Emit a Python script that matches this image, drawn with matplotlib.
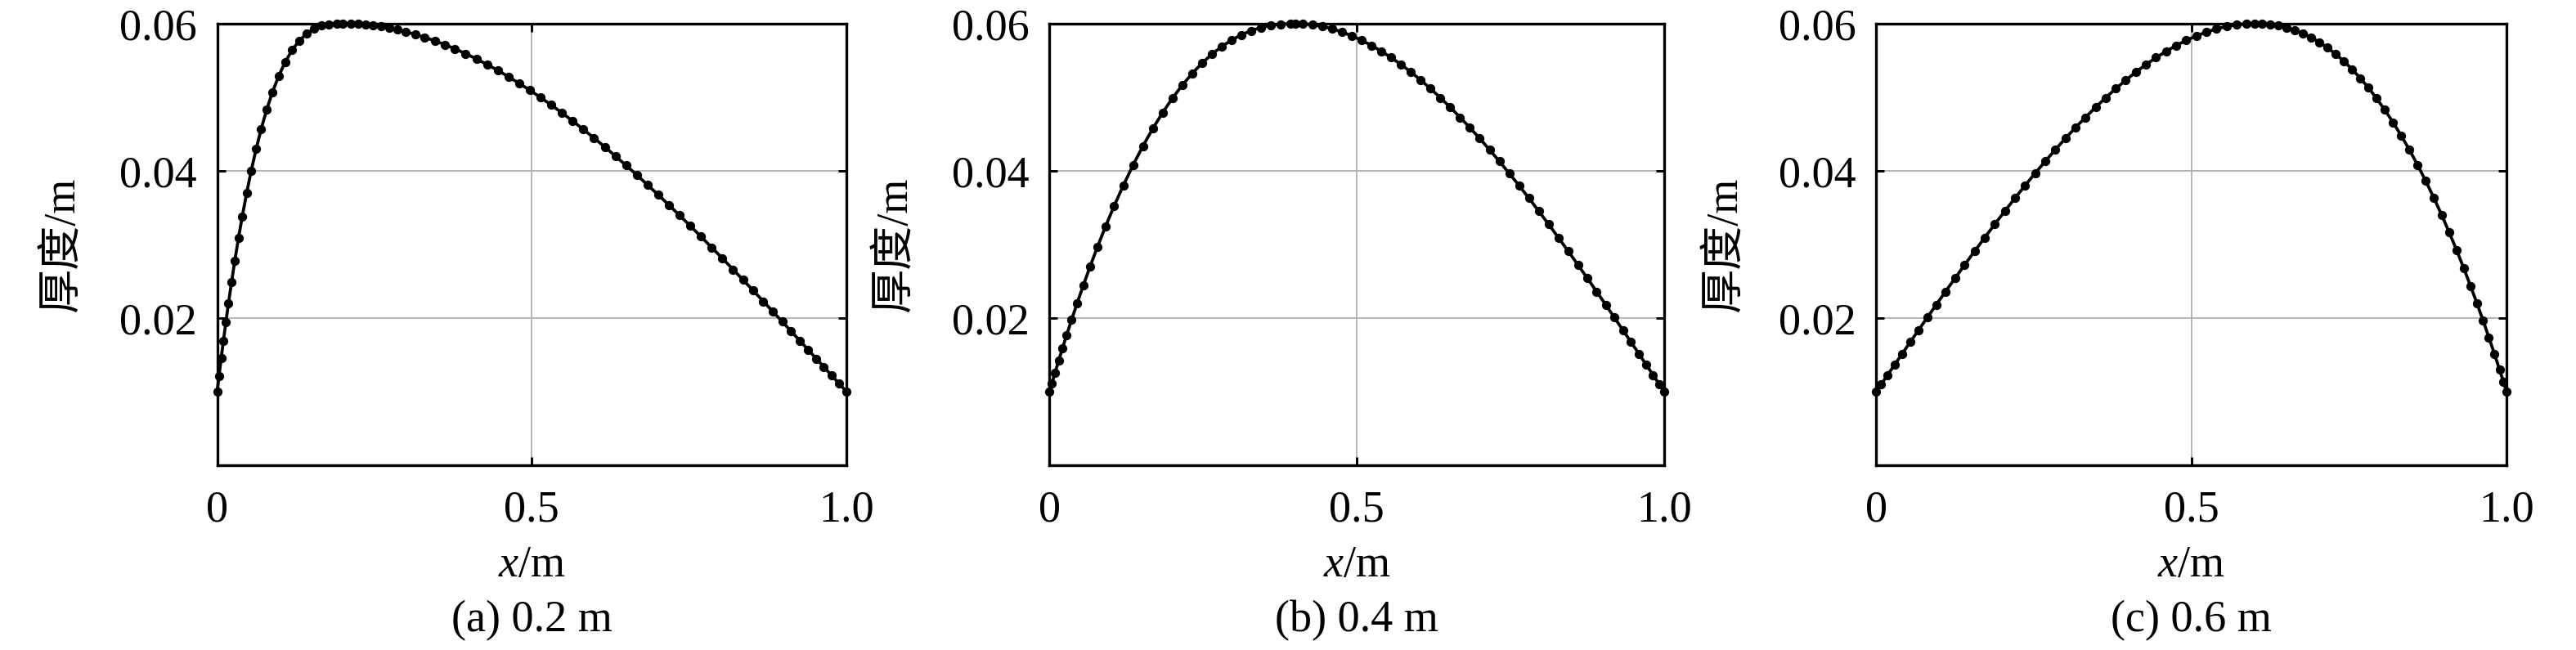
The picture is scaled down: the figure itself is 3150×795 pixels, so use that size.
import matplotlib
matplotlib.use("Agg")
import matplotlib.pyplot as plt

plt.rcParams['font.family'] = ['Liberation Serif', 'Noto Sans CJK SC', 'DejaVu Sans']
plt.rcParams['mathtext.fontset'] = 'custom'
plt.rcParams['mathtext.rm'] = 'Liberation Serif'
plt.rcParams['mathtext.it'] = 'Liberation Serif:italic'
plt.rcParams['font.size'] = 13

# thickness distribution, peak at 0.2 m
x_a = [0, 0.003, 0.0065, 0.010, 0.014, 0.018, 0.023, 0.028, 0.034, 0.040,
       0.047, 0.054, 0.062, 0.070, 0.079, 0.088, 0.098, 0.108, 0.119, 0.130,
       0.142, 0.154, 0.166, 0.178, 0.190, 0.200,
       0.212, 0.224, 0.236, 0.248, 0.260, 0.273, 0.286, 0.300, 0.315, 0.330,
       0.346, 0.362, 0.378, 0.395, 0.412, 0.429, 0.446, 0.463, 0.480, 0.497,
       0.514, 0.531, 0.548, 0.565, 0.582, 0.599, 0.616, 0.633, 0.650, 0.667,
       0.684, 0.701, 0.718, 0.735, 0.752, 0.769, 0.786, 0.803, 0.820, 0.836,
       0.852, 0.868, 0.883, 0.898, 0.912, 0.926, 0.939, 0.952, 0.964, 0.976,
       0.988, 1.0]
h_a = [0.0100, 0.01214, 0.01457, 0.01691, 0.01949, 0.02197, 0.02492, 0.02772, 0.03088, 0.03382,
       0.03701, 0.03993, 0.04296, 0.04567, 0.04836, 0.05070, 0.05290, 0.05474, 0.05637, 0.05762,
       0.05862, 0.05930, 0.05971, 0.05992, 0.05999, 0.0600,
       0.05998, 0.05993, 0.05985, 0.05974, 0.05959, 0.05939, 0.05916, 0.05888, 0.05852, 0.05813,
       0.05765, 0.05713, 0.05656, 0.05591, 0.05520, 0.05444, 0.05364, 0.05278, 0.05188, 0.05094,
       0.04996, 0.04893, 0.04787, 0.04676, 0.04562, 0.04445, 0.04324, 0.04199, 0.04072, 0.03942,
       0.03808, 0.03673, 0.03534, 0.03394, 0.03251, 0.03105, 0.02958, 0.02810, 0.02659, 0.02516,
       0.02372, 0.02226, 0.02089, 0.01951, 0.01822, 0.01692, 0.01571, 0.01449, 0.01337, 0.01225,
       0.01112, 0.0100]

# peak at 0.4 m
x_b = [0, 0.004, 0.009, 0.015, 0.021, 0.028, 0.036, 0.045, 0.055, 0.066,
       0.078, 0.091, 0.105, 0.120, 0.136, 0.152, 0.168, 0.184, 0.200, 0.216,
       0.232, 0.248, 0.264, 0.280, 0.296, 0.312, 0.328, 0.344, 0.360, 0.376,
       0.392, 0.400,
       0.412, 0.428, 0.444, 0.460, 0.476, 0.492, 0.508, 0.524, 0.540, 0.556,
       0.572, 0.588, 0.604, 0.620, 0.636, 0.652, 0.668, 0.684, 0.700, 0.716,
       0.732, 0.748, 0.764, 0.780, 0.796, 0.812, 0.828, 0.844, 0.860, 0.875,
       0.890, 0.905, 0.919, 0.933, 0.946, 0.959, 0.971, 0.982, 0.992, 1.0]
h_b = [0.0100, 0.01114, 0.01255, 0.01421, 0.01583, 0.01769, 0.01975, 0.02200, 0.02442, 0.02697,
       0.02964, 0.03239, 0.03518, 0.03798, 0.04077, 0.04335, 0.04572, 0.04788, 0.04985, 0.05162,
       0.05320, 0.05460, 0.05582, 0.05686, 0.05774, 0.05846, 0.05903, 0.05946, 0.05975, 0.05992,
       0.05999, 0.0600,
       0.05997, 0.05984, 0.05961, 0.05928, 0.05885, 0.05833, 0.05772, 0.05702, 0.05623, 0.05537,
       0.05443, 0.05341, 0.05231, 0.05115, 0.04992, 0.04862, 0.04726, 0.04585, 0.04438, 0.04285,
       0.04127, 0.03965, 0.03798, 0.03627, 0.03452, 0.03273, 0.03091, 0.02906, 0.02718, 0.02540,
       0.02360, 0.02178, 0.02006, 0.01834, 0.01673, 0.01513, 0.01362, 0.01225, 0.01100, 0.0100]

# peak at 0.6 m
x_c = [0, 0.008, 0.018, 0.029, 0.041, 0.054, 0.067, 0.081, 0.095, 0.110,
       0.125, 0.140, 0.156, 0.172, 0.188, 0.204, 0.220, 0.236, 0.252, 0.268,
       0.284, 0.300, 0.316, 0.332, 0.348, 0.364, 0.380, 0.396, 0.412, 0.428,
       0.444, 0.460, 0.476, 0.492, 0.508, 0.524, 0.540, 0.556, 0.572, 0.588,
       0.600,
       0.612, 0.625, 0.638, 0.651, 0.664, 0.677, 0.690, 0.703, 0.716, 0.729,
       0.742, 0.755, 0.768, 0.781, 0.794, 0.807, 0.820, 0.833, 0.846, 0.859,
       0.872, 0.885, 0.897, 0.909, 0.921, 0.932, 0.943, 0.953, 0.963, 0.972,
       0.981, 0.989, 0.995, 1.0]
h_c = [0.0100, 0.01100, 0.01225, 0.01362, 0.01513, 0.01673, 0.01834, 0.02006, 0.02178, 0.02360,
       0.02540, 0.02718, 0.02906, 0.03091, 0.03273, 0.03452, 0.03627, 0.03798, 0.03965, 0.04127,
       0.04285, 0.04438, 0.04585, 0.04726, 0.04862, 0.04992, 0.05115, 0.05231, 0.05341, 0.05443,
       0.05537, 0.05623, 0.05702, 0.05772, 0.05833, 0.05885, 0.05928, 0.05961, 0.05984, 0.05997,
       0.0600,
       0.05998, 0.05989, 0.05972, 0.05946, 0.05911, 0.05867, 0.05812, 0.05747, 0.05672, 0.05585,
       0.05488, 0.05379, 0.05258, 0.05127, 0.04982, 0.04826, 0.04658, 0.04477, 0.04284, 0.04078,
       0.03860, 0.03628, 0.03403, 0.03166, 0.02919, 0.02681, 0.02435, 0.02202, 0.01961, 0.01738,
       0.01508, 0.01298, 0.01137, 0.0100]

captions = ['(a) 0.2 m', '(b) 0.4 m', '(c) 0.6 m']
x_ticks = [0, 0.5, 1.0]
x_ticklabels = ['0', '0.5', '1.0']
y_ticks = [0.02, 0.04, 0.06]
y_ticklabels = ['0.02', '0.04', '0.06']

W, H = 3150, 795
fig = plt.figure(figsize=(W / 300, H / 300), dpi=300)

# axes boxes in pixels: left, width
boxes = [(265.5, 769.5), (1283.3, 751.7), (2294.3, 770.7)]
top_px, bot_px = 28.8, 569.0
ylab_px = [77, 1095, 2110]

series = [(x_a, h_a), (x_b, h_b), (x_c, h_c)]

for i, (xs, hs) in enumerate(series):
    l, w = boxes[i]
    ax = fig.add_axes([l / W, 1 - bot_px / H, w / W, (bot_px - top_px) / H])
    ax.plot(xs, hs, color='black', lw=0.9, marker='o', ms=1.7, clip_on=False, zorder=3)
    ax.set_xlim(0, 1.0)
    ax.set_ylim(0, 0.06)
    ax.set_xticks(x_ticks)
    ax.set_xticklabels(x_ticklabels)
    ax.set_yticks(y_ticks)
    ax.set_yticklabels(y_ticklabels)
    ax.set_axisbelow(True)
    ax.grid(True, color='#b3b3b3', lw=0.45)
    ax.tick_params(direction='in', top=True, right=True, length=2.4, width=0.7,
                   labelsize=13)
    ax.tick_params(axis='x', pad=7.2)
    ax.tick_params(axis='y', pad=6)
    for sp in ax.spines.values():
        sp.set_linewidth(0.8)

    cx = (l + w / 2) / W
    fig.text(cx, 1 - 692 / H, '$x$/m', ha='center', va='center', fontsize=13)
    fig.text(cx, 1 - 759 / H, captions[i], ha='center', va='center', fontsize=13)
    fig.text(ylab_px[i] / W, 1 - 299 / H, '厚度/m', rotation=90,
             ha='center', va='center', fontsize=13)

fig.savefig('out.png', dpi=300)
